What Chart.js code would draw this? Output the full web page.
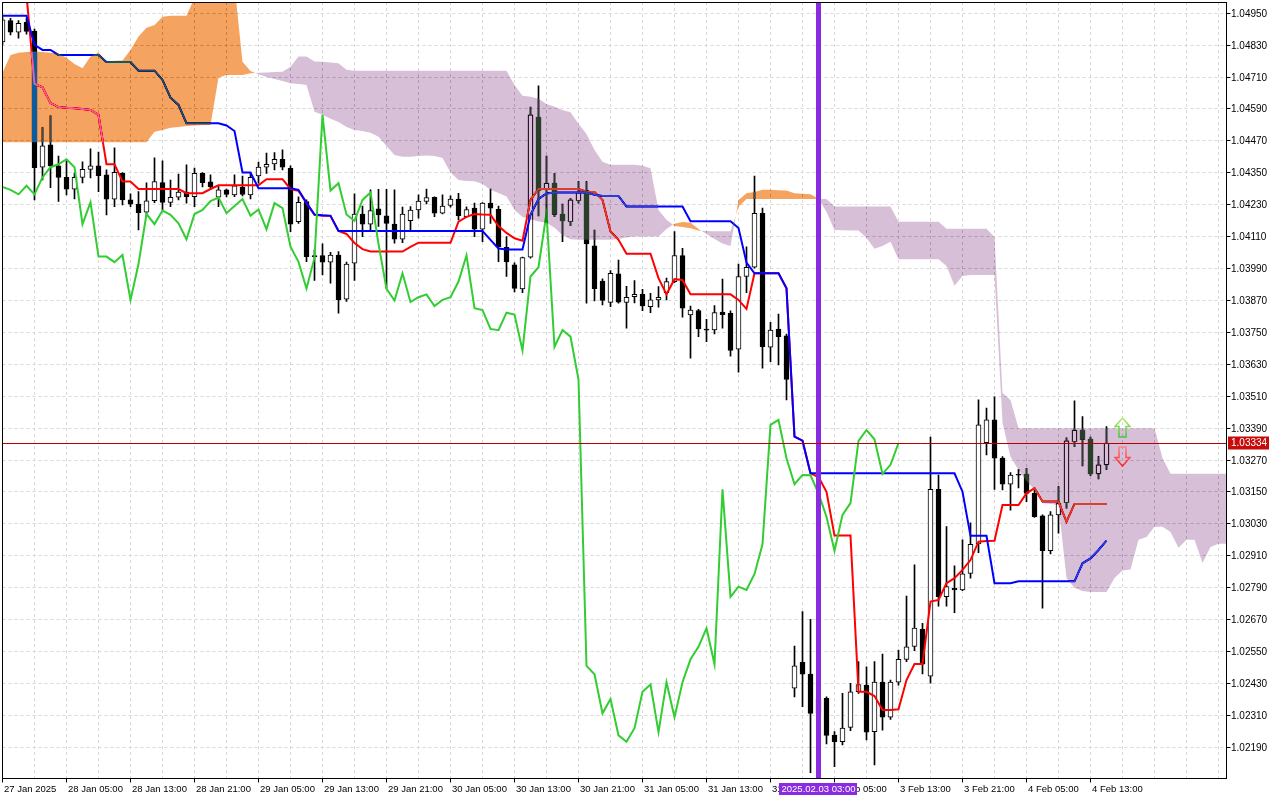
<!DOCTYPE html>
<html>
<head>
<meta charset="utf-8">
<title>EURUSD H1 Ichimoku</title>
<script src="https://cdn.jsdelivr.net/npm/chart.js@4.4.1/dist/chart.umd.min.js"></script>
<style>
  html, body { margin: 0; padding: 0; background: #ffffff; }
  #wrap { width: 1280px; height: 800px; }
</style>
</head>
<body>
<div id="wrap"><canvas id="chart" width="1280" height="800"></canvas></div>
<script>
// Hourly candles, bar 0 = 27 Jan 21:00, bar 138 = 4 Feb 15:00
const open = [
  1.04842, 1.04922, 1.04879, 1.04916, 1.04883, 1.04371, 1.04455, 1.04376, 1.04333, 1.04288,
  1.04333, 1.04363, 1.04376, 1.04342, 1.04251, 1.04348, 1.04248, 1.04232, 1.04202, 1.04245,
  1.04313, 1.04239, 1.04258, 1.04277, 1.04260, 1.04348, 1.04316, 1.04258, 1.04286, 1.04267,
  1.04296, 1.04267, 1.04338, 1.04371, 1.04383, 1.04401, 1.04367, 1.04166, 1.04242, 1.04039,
  1.04039, 1.04014, 1.04041, 1.03875, 1.04010, 1.04195, 1.04157, 1.04214, 1.04188, 1.04157,
  1.04100, 1.04170, 1.04210, 1.04242, 1.04258, 1.04198, 1.04227, 1.04251, 1.04185, 1.04217,
  1.04138, 1.04236, 1.04213, 1.04070, 1.04004, 1.03913, 1.04033, 1.04559, 1.04288, 1.04311,
  1.04195, 1.04166, 1.04245, 1.04283, 1.04075, 1.03943, 1.03863, 1.03970, 1.03863, 1.03884,
  1.03893, 1.03847, 1.03872, 1.03899, 1.03941, 1.04039, 1.03816, 1.03832, 1.03762, 1.03759,
  1.03826, 1.03822, 1.03687, 1.03960, 1.03995, 1.04198, 1.03694, 1.03762, 1.03737, 1.02412,
  1.02510, 1.02465, 1.02318, 1.02374, 1.02236, 1.02211, 1.02265, 1.02399, 1.02424, 1.02249,
  1.02435, 1.02303, 1.02435, 1.02521, 1.02569, 1.02634, 1.02458, 1.03160, 1.02756, 1.02788,
  1.02782, 1.02844, 1.02955, 1.03335, 1.03421, 1.03277, 1.03179, 1.03214, 1.03217, 1.03145,
  1.03060, 1.02929, 1.03064, 1.03110, 1.03339, 1.03383, 1.03349, 1.03218, 1.03252
];
const high = [
  1.04936, 1.04931, 1.04922, 1.04931, 1.04890, 1.04520, 1.04564, 1.04413, 1.04395, 1.04350,
  1.04391, 1.04440, 1.04428, 1.04361, 1.04444, 1.04351, 1.04271, 1.04279, 1.04312, 1.04406,
  1.04395, 1.04323, 1.04345, 1.04380, 1.04368, 1.04351, 1.04342, 1.04298, 1.04289, 1.04342,
  1.04338, 1.04351, 1.04390, 1.04424, 1.04426, 1.04436, 1.04376, 1.04260, 1.04248, 1.04060,
  1.04083, 1.04051, 1.04054, 1.04014, 1.04271, 1.04225, 1.04286, 1.04288, 1.04288, 1.04286,
  1.04221, 1.04223, 1.04267, 1.04289, 1.04260, 1.04267, 1.04263, 1.04273, 1.04222, 1.04236,
  1.04238, 1.04289, 1.04225, 1.04110, 1.04011, 1.04033, 1.04597, 1.04677, 1.04413, 1.04348,
  1.04232, 1.04254, 1.04317, 1.04317, 1.04135, 1.03951, 1.03982, 1.04022, 1.03923, 1.03945,
  1.03912, 1.03897, 1.03922, 1.03954, 1.04129, 1.04066, 1.03849, 1.03837, 1.03799, 1.03851,
  1.03950, 1.03831, 1.04007, 1.04072, 1.04338, 1.04217, 1.03788, 1.03819, 1.03744, 1.02571,
  1.02700, 1.02671, 1.02387, 1.02380, 1.02249, 1.02393, 1.02431, 1.02512, 1.02493, 1.02512,
  1.02541, 1.02443, 1.02556, 1.02759, 1.02876, 1.02656, 1.03356, 1.03214, 1.03020, 1.02872,
  1.02970, 1.03034, 1.03496, 1.03465, 1.03508, 1.03283, 1.03223, 1.03235, 1.03239, 1.03164,
  1.03064, 1.03076, 1.03170, 1.03354, 1.03493, 1.03433, 1.03356, 1.03283, 1.03396
];
const low = [
  1.04831, 1.04868, 1.04856, 1.04871, 1.04248, 1.04323, 1.04294, 1.04242, 1.04267, 1.04252,
  1.04312, 1.04331, 1.04279, 1.04192, 1.04223, 1.04229, 1.04223, 1.04135, 1.04185, 1.04238,
  1.04210, 1.04223, 1.04248, 1.04236, 1.04223, 1.04297, 1.04289, 1.04223, 1.04259, 1.04260,
  1.04263, 1.04252, 1.04311, 1.04348, 1.04361, 1.04361, 1.04129, 1.04160, 1.04016, 1.03945,
  1.03966, 1.03935, 1.03822, 1.03866, 1.03945, 1.04110, 1.04135, 1.04148, 1.03916, 1.04085,
  1.04087, 1.04135, 1.04179, 1.04233, 1.04185, 1.04195, 1.04221, 1.04173, 1.04182, 1.04110,
  1.04091, 1.04160, 1.04016, 1.03960, 1.03902, 1.03899, 1.04029, 1.04188, 1.04185, 1.04185,
  1.04091, 1.04151, 1.04236, 1.03860, 1.03868, 1.03853, 1.03847, 1.03860, 1.03766, 1.03861,
  1.03832, 1.03824, 1.03845, 1.03872, 1.03937, 1.03807, 1.03653, 1.03734, 1.03715, 1.03744,
  1.03766, 1.03661, 1.03600, 1.03899, 1.03991, 1.03615, 1.03640, 1.03628, 1.03496, 1.02380,
  1.02343, 1.02095, 1.02255, 1.02203, 1.02117, 1.02199, 1.02253, 1.02393, 1.02218, 1.02124,
  1.02255, 1.02295, 1.02424, 1.02512, 1.02553, 1.02466, 1.02431, 1.02721, 1.02721, 1.02696,
  1.02779, 1.02826, 1.02922, 1.03289, 1.03160, 1.03158, 1.03082, 1.03165, 1.03114, 1.03054,
  1.02713, 1.02917, 1.02995, 1.03089, 1.03320, 1.03248, 1.03212, 1.03199, 1.03235
];
const close = [
  1.04925, 1.04879, 1.04912, 1.04881, 1.04369, 1.04451, 1.04376, 1.04333, 1.04288, 1.04333,
  1.04363, 1.04376, 1.04339, 1.04251, 1.04352, 1.04248, 1.04232, 1.04200, 1.04245, 1.04317,
  1.04239, 1.04258, 1.04277, 1.04260, 1.04348, 1.04313, 1.04297, 1.04286, 1.04269, 1.04301,
  1.04269, 1.04333, 1.04371, 1.04382, 1.04401, 1.04371, 1.04157, 1.04239, 1.04035, 1.04035,
  1.04014, 1.04041, 1.03872, 1.04007, 1.04195, 1.04157, 1.04208, 1.04192, 1.04160, 1.04100,
  1.04195, 1.04210, 1.04244, 1.04257, 1.04198, 1.04225, 1.04251, 1.04189, 1.04212, 1.04138,
  1.04236, 1.04217, 1.04072, 1.04015, 1.03915, 1.04031, 1.04568, 1.04283, 1.04311, 1.04193,
  1.04169, 1.04248, 1.04276, 1.04083, 1.03914, 1.03870, 1.03972, 1.03864, 1.03882, 1.03893,
  1.03849, 1.03872, 1.03882, 1.03941, 1.04039, 1.03841, 1.03834, 1.03763, 1.03758, 1.03824,
  1.03817, 1.03682, 1.03960, 1.03995, 1.04198, 1.03696, 1.03759, 1.03734, 1.03573, 1.02496,
  1.02465, 1.02318, 1.02372, 1.02235, 1.02211, 1.02262, 1.02399, 1.02426, 1.02247, 1.02435,
  1.02303, 1.02435, 1.02521, 1.02568, 1.02638, 1.02503, 1.03160, 1.02756, 1.02794, 1.02782,
  1.02842, 1.02953, 1.03402, 1.03421, 1.03277, 1.03179, 1.03214, 1.03213, 1.03145, 1.03057,
  1.02929, 1.03064, 1.03108, 1.03342, 1.03383, 1.03348, 1.03218, 1.03252, 1.03334
];

// Ichimoku lines (one value per bar)
const tenkan = [
  1.05019, 1.05019, 1.05019, 1.05019, 1.04684, 1.04671, 1.04612, 1.04597, 1.04594, 1.04593,
  1.04590, 1.04586, 1.04568, 1.04382, 1.04382, 1.04317, 1.04317, 1.04289, 1.04289, 1.04289,
  1.04289, 1.04289, 1.04289, 1.04273, 1.04273, 1.04273, 1.04289, 1.04303, 1.04303, 1.04303,
  1.04303, 1.04303, 1.04303, 1.04326, 1.04326, 1.04326, 1.04289, 1.04282, 1.04236, 1.04192,
  1.04188, 1.04188, 1.04131, 1.04120, 1.04086, 1.04063, 1.04054, 1.04054, 1.04054, 1.04054,
  1.04054, 1.04071, 1.04087, 1.04087, 1.04087, 1.04087, 1.04087, 1.04166, 1.04184, 1.04195,
  1.04193, 1.04192, 1.04150, 1.04124, 1.04104, 1.04095, 1.04248, 1.04289, 1.04289, 1.04289,
  1.04289, 1.04289, 1.04289, 1.04279, 1.04278, 1.04248, 1.04129, 1.04098, 1.04046, 1.04046,
  1.04046, 1.04046, 1.03954, 1.03893, 1.03950, 1.03947, 1.03893, 1.03893, 1.03893, 1.03893,
  1.03893, 1.03893, 1.03872, 1.03838, 1.03972, 1.03972, 1.03972, 1.03972, 1.03916, 1.03358,
  1.03343, 1.03220, 1.03206, 1.03151, 1.02986, 1.02986, 1.02986, 1.02399, 1.02399, 1.02383,
  1.02330, 1.02330, 1.02333, 1.02443, 1.02503, 1.02503, 1.02738, 1.02744, 1.02807, 1.02826,
  1.02857, 1.02894, 1.02963, 1.02966, 1.02967, 1.03101, 1.03101, 1.03101, 1.03145, 1.03164,
  1.03114, 1.03114, 1.03114, 1.03038, 1.03105, 1.03105, 1.03105, 1.03105, 1.03105
];
const kijun = [
  1.04940, 1.04940, 1.04940, 1.04940, 1.04831, 1.04812, 1.04812, 1.04793, 1.04793, 1.04793,
  1.04793, 1.04793, 1.04793, 1.04766, 1.04766, 1.04766, 1.04766, 1.04734, 1.04734, 1.04734,
  1.04699, 1.04632, 1.04605, 1.04536, 1.04536, 1.04536, 1.04536, 1.04536, 1.04528, 1.04507,
  1.04351, 1.04351, 1.04292, 1.04292, 1.04292, 1.04292, 1.04292, 1.04286, 1.04237, 1.04193,
  1.04190, 1.04188, 1.04131, 1.04131, 1.04131, 1.04131, 1.04131, 1.04131, 1.04131, 1.04131,
  1.04131, 1.04131, 1.04131, 1.04131, 1.04131, 1.04131, 1.04131, 1.04131, 1.04131, 1.04131,
  1.04131, 1.04098, 1.04065, 1.04062, 1.04062, 1.04062, 1.04192, 1.04252, 1.04272, 1.04276,
  1.04276, 1.04276, 1.04276, 1.04276, 1.04267, 1.04263, 1.04263, 1.04263, 1.04223, 1.04223,
  1.04223, 1.04223, 1.04223, 1.04223, 1.04223, 1.04223, 1.04168, 1.04168, 1.04168, 1.04168,
  1.04168, 1.04168, 1.04142, 1.04012, 1.03972, 1.03972, 1.03972, 1.03972, 1.03916, 1.03358,
  1.03343, 1.03220, 1.03220, 1.03220, 1.03220, 1.03220, 1.03220, 1.03220, 1.03220, 1.03220,
  1.03220, 1.03220, 1.03220, 1.03220, 1.03220, 1.03220, 1.03220, 1.03220, 1.03220, 1.03220,
  1.03151, 1.02985, 1.02985, 1.02985, 1.02807, 1.02807, 1.02807, 1.02814, 1.02814, 1.02814,
  1.02814, 1.02814, 1.02814, 1.02814, 1.02814, 1.02882, 1.02900, 1.02932, 1.02967
];
// Chikou span, drawn from bar 0 to bar 112
const chikou = [
  1.04297, 1.04286, 1.04269, 1.04301, 1.04269, 1.04333, 1.04371, 1.04382, 1.04401, 1.04371,
  1.04157, 1.04239, 1.04035, 1.04035, 1.04014, 1.04041, 1.03872, 1.04007, 1.04195, 1.04157,
  1.04208, 1.04192, 1.04160, 1.04100, 1.04195, 1.04210, 1.04244, 1.04257, 1.04198, 1.04225,
  1.04251, 1.04189, 1.04212, 1.04138, 1.04236, 1.04217, 1.04072, 1.04015, 1.03915, 1.04031,
  1.04568, 1.04283, 1.04311, 1.04193, 1.04169, 1.04248, 1.04276, 1.04083, 1.03914, 1.03870,
  1.03972, 1.03864, 1.03882, 1.03893, 1.03849, 1.03872, 1.03882, 1.03941, 1.04039, 1.03841,
  1.03834, 1.03763, 1.03758, 1.03824, 1.03817, 1.03682, 1.03960, 1.03995, 1.04198, 1.03696,
  1.03759, 1.03734, 1.03573, 1.02496, 1.02465, 1.02318, 1.02372, 1.02235, 1.02211, 1.02262,
  1.02399, 1.02426, 1.02247, 1.02435, 1.02303, 1.02435, 1.02521, 1.02568, 1.02638, 1.02503,
  1.03160, 1.02756, 1.02794, 1.02782, 1.02842, 1.02953, 1.03402, 1.03421, 1.03277, 1.03179,
  1.03214, 1.03213, 1.03145, 1.03057, 1.02929, 1.03064, 1.03108, 1.03342, 1.03383, 1.03348,
  1.03218, 1.03252, 1.03334
];
// Senkou spans, bar 0 to bar 153 (the cloud runs past the last candle)
const spanA = [
  1.04726, 1.04793, 1.04801, 1.04804, 1.04806, 1.04804, 1.04801, 1.04797, 1.04782, 1.04759,
  1.04743, 1.04787, 1.04802, 1.04768, 1.04771, 1.04772, 1.04812, 1.04862, 1.04895, 1.04906,
  1.04937, 1.04940, 1.04940, 1.04940, 1.05008, 1.05056, 1.05056, 1.05056, 1.05056, 1.05056,
  1.04767, 1.04733, 1.04720, 1.04710, 1.04703, 1.04695, 1.04687, 1.04684, 1.04680, 1.04579,
  1.04568, 1.04553, 1.04541, 1.04522, 1.04511, 1.04507, 1.04500, 1.04485, 1.04451, 1.04417,
  1.04410, 1.04410, 1.04413, 1.04415, 1.04413, 1.04406, 1.04351, 1.04323, 1.04319, 1.04318,
  1.04308, 1.04286, 1.04274, 1.04261, 1.04210, 1.04184, 1.04175, 1.04167, 1.04162, 1.04143,
  1.04115, 1.04100, 1.04098, 1.04098, 1.04098, 1.04098, 1.04098, 1.04101, 1.04107, 1.04110,
  1.04110, 1.04110, 1.04110, 1.04139, 1.04158, 1.04165, 1.04162, 1.04139, 1.04120, 1.04101,
  1.04084, 1.04075, 1.04248, 1.04273, 1.04278, 1.04286, 1.04286, 1.04284, 1.04283, 1.04273,
  1.04271, 1.04269, 1.04252, 1.04203, 1.04135, 1.04134, 1.04133, 1.04133, 1.04105, 1.04064,
  1.04075, 1.04091, 1.04025, 1.04025, 1.04025, 1.04025, 1.04025, 1.04025, 1.04000, 1.03925,
  1.03962, 1.03966, 1.03966, 1.03966, 1.03966, 1.03410, 1.03282, 1.03233, 1.03191, 1.03158,
  1.03108, 1.03105, 1.03101, 1.02827, 1.02789, 1.02778, 1.02774, 1.02774, 1.02774, 1.02827,
  1.02855, 1.02859, 1.02970, 1.02981, 1.03019, 1.03019, 1.03000, 1.02940, 1.02970, 1.02970,
  1.02883, 1.02943, 1.02955, 1.02955
];
const spanB = [
  1.04465, 1.04465, 1.04465, 1.04465, 1.04465, 1.04465, 1.04465, 1.04465, 1.04465, 1.04465,
  1.04465, 1.04465, 1.04465, 1.04465, 1.04465, 1.04465, 1.04465, 1.04465, 1.04465, 1.04504,
  1.04511, 1.04519, 1.04522, 1.04526, 1.04528, 1.04530, 1.04530, 1.04707, 1.04718, 1.04718,
  1.04718, 1.04724, 1.04726, 1.04727, 1.04729, 1.04730, 1.04749, 1.04787, 1.04787, 1.04768,
  1.04767, 1.04765, 1.04762, 1.04737, 1.04734, 1.04734, 1.04734, 1.04734, 1.04734, 1.04734,
  1.04734, 1.04734, 1.04734, 1.04734, 1.04734, 1.04734, 1.04734, 1.04734, 1.04734, 1.04734,
  1.04734, 1.04734, 1.04734, 1.04734, 1.04680, 1.04640, 1.04636, 1.04628, 1.04609, 1.04598,
  1.04586, 1.04578, 1.04534, 1.04496, 1.04436, 1.04391, 1.04380, 1.04380, 1.04380, 1.04380,
  1.04376, 1.04367, 1.04210, 1.04173, 1.04150, 1.04146, 1.04141, 1.04133, 1.04131, 1.04130,
  1.04130, 1.04130, 1.04222, 1.04251, 1.04251, 1.04251, 1.04251, 1.04251, 1.04251, 1.04251,
  1.04251, 1.04251, 1.04251, 1.04251, 1.04223, 1.04223, 1.04223, 1.04223, 1.04223, 1.04223,
  1.04223, 1.04223, 1.04166, 1.04166, 1.04166, 1.04166, 1.04166, 1.04166, 1.04140, 1.04140,
  1.04140, 1.04140, 1.04140, 1.04140, 1.04109, 1.03522, 1.03496, 1.03390, 1.03390, 1.03390,
  1.03390, 1.03390, 1.03390, 1.03390, 1.03390, 1.03390, 1.03390, 1.03390, 1.03390, 1.03390,
  1.03390, 1.03390, 1.03390, 1.03390, 1.03390, 1.03278, 1.03219, 1.03219, 1.03219, 1.03219,
  1.03219, 1.03219, 1.03219, 1.03219
];

// Price axis labels
const yTicks = [
  1.04950, 1.04830, 1.04710, 1.04590, 1.04470, 1.04350, 1.04230, 1.04110, 1.03990, 1.03870,
  1.03750, 1.03630, 1.03510, 1.03390, 1.03270, 1.03150, 1.03030, 1.02910, 1.02790, 1.02670,
  1.02550, 1.02430, 1.02310, 1.02190
];
// Time axis labels (bar index -> text)
const xLabelIdx = [0, 8, 16, 24, 32, 40, 48, 56, 64, 72, 80, 88, 96, 104, 112, 120, 128, 136];
const xLabelText = [
  '27 Jan 2025', '28 Jan 05:00', '28 Jan 13:00', '28 Jan 21:00', '29 Jan 05:00', '29 Jan 13:00',
  '29 Jan 21:00', '30 Jan 05:00', '30 Jan 13:00', '30 Jan 21:00', '31 Jan 05:00', '31 Jan 13:00',
  '31 Jan 21:00', '3 Feb 05:00', '3 Feb 13:00', '3 Feb 21:00', '4 Feb 05:00', '4 Feb 13:00'
];

const lastPrice = 1.03334;
const markIdx = 102;
const markText = '2025.02.03 03:00';
const signalIdx = [140, 140];
const signalVal = [1.03393, 1.03284];
const signalDir = ['up', 'down'];

const Y_MIN = 1.02071, Y_MAX = 1.04992;
const X_MIN = 0, X_MAX = 153.0625;
const FONT = '"Liberation Sans", Arial, sans-serif';

// cloud is painted with "difference" so it tints whatever lies under it, like the terminal does
const ORANGE_K = '#0b5b9f';   // white minus sandybrown
const THISTLE_K = '#274027';  // white minus thistle

function arrowImg(dir) {
  const c = document.createElement('canvas');
  c.width = 17; c.height = 21;
  const g = c.getContext('2d');
  const pts = dir === 'up'
    ? [[8.5, 1], [16, 9.5], [12, 9.5], [12, 20], [5, 20], [5, 9.5], [1, 9.5]]
    : [[5, 1], [12, 1], [12, 11.5], [16, 11.5], [8.5, 20], [1, 11.5], [5, 11.5]];
  g.beginPath();
  pts.forEach((p, i) => i ? g.lineTo(p[0], p[1]) : g.moveTo(p[0], p[1]));
  g.closePath();
  const grad = g.createLinearGradient(0, 0, 0, 21);
  if (dir === 'up') {
    grad.addColorStop(0, '#b8f06a');
    grad.addColorStop(1, '#3cc83c');
  } else {
    grad.addColorStop(0, '#ff8a8a');
    grad.addColorStop(1, '#ff2020');
  }
  g.strokeStyle = grad;
  g.lineWidth = 1.6;
  g.stroke();
  return c;
}
const arrows = { up: arrowImg('up'), down: arrowImg('down') };

function crisp(v) { return Math.round(v - 0.5) + 0.5; }

function cloudPoints(ptsA, ptsB) {
  const out = [];
  for (let i = 0; i < ptsA.length; i++) {
    const a = ptsA[i], b = ptsB[i];
    out.push({ x: a.x, ya: a.y, yb: b.y });
    if (i < ptsA.length - 1) {
      const a2 = ptsA[i + 1], b2 = ptsB[i + 1];
      const d1 = a.y - b.y, d2 = a2.y - b2.y;
      if (d1 * d2 < 0) {
        const t = d1 / (d1 - d2);
        const y = a.y + (a2.y - a.y) * t;
        out.push({ x: a.x + (a2.x - a.x) * t, ya: y, yb: y });
      }
    }
  }
  return out;
}

function fillBand(o, pts, key, color) {
  o.beginPath();
  pts.forEach((p, i) => i ? o.lineTo(p.x, p[key]) : o.moveTo(p.x, p[key]));
  for (let i = pts.length - 1; i >= 0; i--) {
    o.lineTo(pts[i].x, Math.max(pts[i].ya, pts[i].yb));
  }
  o.closePath();
  o.fillStyle = color;
  o.fill();
}

const IDX_A = 5, IDX_B = 6, IDX_SIG = 7;

const mt5Look = {
  id: 'mt5Look',
  beforeDraw(chart) {
    const c = chart.ctx;
    c.save();
    c.fillStyle = '#ffffff';
    c.fillRect(0, 0, chart.width, chart.height);
    c.restore();
  },
  beforeDatasetsDraw(chart) {
    const { ctx, chartArea: a, scales: { x, y } } = chart;
    ctx.save();
    ctx.strokeStyle = '#d9d9d9';
    ctx.lineWidth = 1;
    ctx.setLineDash([3, 3]);
    for (let k = 4; k <= X_MAX; k += 4) {
      const px = crisp(x.getPixelForValue(k));
      ctx.beginPath();
      ctx.moveTo(px, a.top);
      ctx.lineTo(px, a.bottom);
      ctx.stroke();
    }
    yTicks.forEach(v => {
      const py = crisp(y.getPixelForValue(v));
      ctx.beginPath();
      ctx.moveTo(a.left, py);
      ctx.lineTo(a.right, py);
      ctx.stroke();
    });
    ctx.restore();
  },
  afterDatasetsDraw(chart) {
    const { ctx, chartArea: a, scales: { x, y } } = chart;

    // Kumo
    const mA = chart.getDatasetMeta(IDX_A).data;
    const mB = chart.getDatasetMeta(IDX_B).data;
    const off = document.createElement('canvas');
    off.width = chart.canvas.width;
    off.height = chart.canvas.height;
    const o = off.getContext('2d');
    const r = chart.currentDevicePixelRatio || 1;
    o.scale(r, r);
    o.beginPath();
    o.rect(a.left, a.top, a.right - a.left, a.bottom - a.top);
    o.clip();
    const pts = cloudPoints(mA, mB);
    fillBand(o, pts, 'ya', ORANGE_K);
    fillBand(o, pts, 'yb', THISTLE_K);
    ctx.save();
    ctx.globalCompositeOperation = 'difference';
    ctx.drawImage(off, 0, 0, chart.width, chart.height);
    ctx.restore();

    ctx.save();
    ctx.beginPath();
    ctx.rect(a.left, a.top, a.right - a.left, a.bottom - a.top);
    ctx.clip();

    // vertical marker
    const mx = x.getPixelForValue(markIdx);
    ctx.fillStyle = '#8a2be2';
    ctx.fillRect(mx - 2.5, a.top, 5, a.bottom - a.top);

    // bid line
    const py = crisp(y.getPixelForValue(lastPrice));
    ctx.strokeStyle = '#b40000';
    ctx.lineWidth = 1;
    ctx.beginPath();
    ctx.moveTo(a.left, py);
    ctx.lineTo(a.right, py);
    ctx.stroke();

    // signal arrows
    const sig = chart.getDatasetMeta(IDX_SIG).data;
    sig.forEach((pt, k) => {
      const img = arrows[signalDir[k]];
      ctx.drawImage(img, Math.round(pt.x - 8.5), Math.round(pt.y - 10.5));
    });
    ctx.restore();
  },
  afterDraw(chart) {
    const { ctx, chartArea: a, scales: { x, y } } = chart;
    const L = Math.floor(a.left) + 0.5, T = Math.floor(a.top) + 0.5;
    const R = Math.ceil(a.right) - 0.5, B = Math.ceil(a.bottom) - 0.5;
    ctx.save();
    ctx.strokeStyle = '#000000';
    ctx.lineWidth = 1;
    ctx.strokeRect(L, T, R - L, B - T);

    // price axis
    ctx.font = '10px ' + FONT;
    ctx.fillStyle = '#000000';
    ctx.textAlign = 'left';
    ctx.textBaseline = 'middle';
    yTicks.forEach(v => {
      const py = crisp(y.getPixelForValue(v));
      ctx.beginPath();
      ctx.moveTo(R, py);
      ctx.lineTo(R + 4, py);
      ctx.stroke();
      ctx.fillText(v.toFixed(5), R + 4.5, py + 0.5);
    });

    // time axis
    ctx.font = '9.5px ' + FONT;
    xLabelIdx.forEach((idx, k) => {
      const px = crisp(x.getPixelForValue(idx));
      ctx.beginPath();
      ctx.moveTo(px, B);
      ctx.lineTo(px, B + 4);
      ctx.stroke();
      ctx.fillText(xLabelText[k], px + 1.5, 789);
    });

    // bid label
    const bp = y.getPixelForValue(lastPrice);
    ctx.fillStyle = '#c80a0a';
    ctx.fillRect(R + 1.5, Math.round(bp) - 6.5, 41, 13);
    ctx.fillStyle = '#ffffff';
    ctx.font = '10px ' + FONT;
    ctx.fillText(lastPrice.toFixed(5), R + 4.5, Math.round(bp) + 0.5);

    // marker time label
    const mx = x.getPixelForValue(markIdx);
    ctx.fillStyle = '#8a2be2';
    ctx.fillRect(Math.round(mx - 39), 783, 78, 12);
    ctx.fillStyle = '#ffffff';
    ctx.font = '9.5px ' + FONT;
    ctx.textAlign = 'center';
    ctx.fillText(markText, mx, 789);
    ctx.restore();
  }
};

const bars = open.map((o, i) => i);

new Chart(document.getElementById('chart'), {
  type: 'bar',
  data: {
    datasets: [
      {
        type: 'line', label: 'Chikou Span',
        data: chikou.map((v, i) => ({ x: i, y: v })),
        borderColor: '#32cd32', borderWidth: 2, pointRadius: 0, tension: 0, order: 0
      },
      {
        type: 'line', label: 'Kijun-sen',
        data: kijun.map((v, i) => ({ x: i, y: v })),
        borderColor: '#0000ff', borderWidth: 2, pointRadius: 0, tension: 0, order: 1
      },
      {
        type: 'line', label: 'Tenkan-sen',
        data: tenkan.map((v, i) => ({ x: i, y: v })),
        borderColor: '#ff0000', borderWidth: 2, pointRadius: 0, tension: 0, order: 2
      },
      {
        type: 'bar', label: 'Body',
        data: bars.map(i => ({ x: i, y: [open[i], close[i]] })),
        backgroundColor: bars.map(i => close[i] > open[i] ? '#ffffff' : '#000000'),
        borderColor: '#000000', borderWidth: 1, borderSkipped: false,
        barThickness: 5, minBarLength: 1, grouped: false, order: 3
      },
      {
        type: 'bar', label: 'Wick',
        data: bars.map(i => ({ x: i, y: [low[i], high[i]] })),
        backgroundColor: '#000000', borderWidth: 0,
        barThickness: 1, minBarLength: 1, grouped: false, order: 4
      },
      {
        type: 'line', label: 'Senkou Span A',
        data: spanA.map((v, i) => ({ x: i, y: v })),
        showLine: false, pointRadius: 0, order: 5
      },
      {
        type: 'line', label: 'Senkou Span B',
        data: spanB.map((v, i) => ({ x: i, y: v })),
        showLine: false, pointRadius: 0, order: 6
      },
      {
        type: 'line', label: 'Signals',
        data: signalIdx.map((v, k) => ({ x: v, y: signalVal[k] })),
        showLine: false, pointRadius: 0, order: 7
      }
    ]
  },
  options: {
    responsive: false,
    animation: false,
    devicePixelRatio: 1,
    events: [],
    layout: { padding: { left: 2.5, top: 2, right: 0, bottom: 0 } },
    plugins: { legend: { display: false }, tooltip: { enabled: false } },
    scales: {
      x: {
        type: 'linear', min: X_MIN, max: X_MAX, offset: false,
        grid: { display: false }, border: { display: false }, ticks: { display: false },
        afterFit(s) { s.height = 21; }
      },
      y: {
        type: 'linear', position: 'right', min: Y_MIN, max: Y_MAX,
        grid: { display: false }, border: { display: false }, ticks: { display: false },
        afterFit(s) { s.width = 53; }
      }
    }
  },
  plugins: [mt5Look]
});
</script>
</body>
</html>
